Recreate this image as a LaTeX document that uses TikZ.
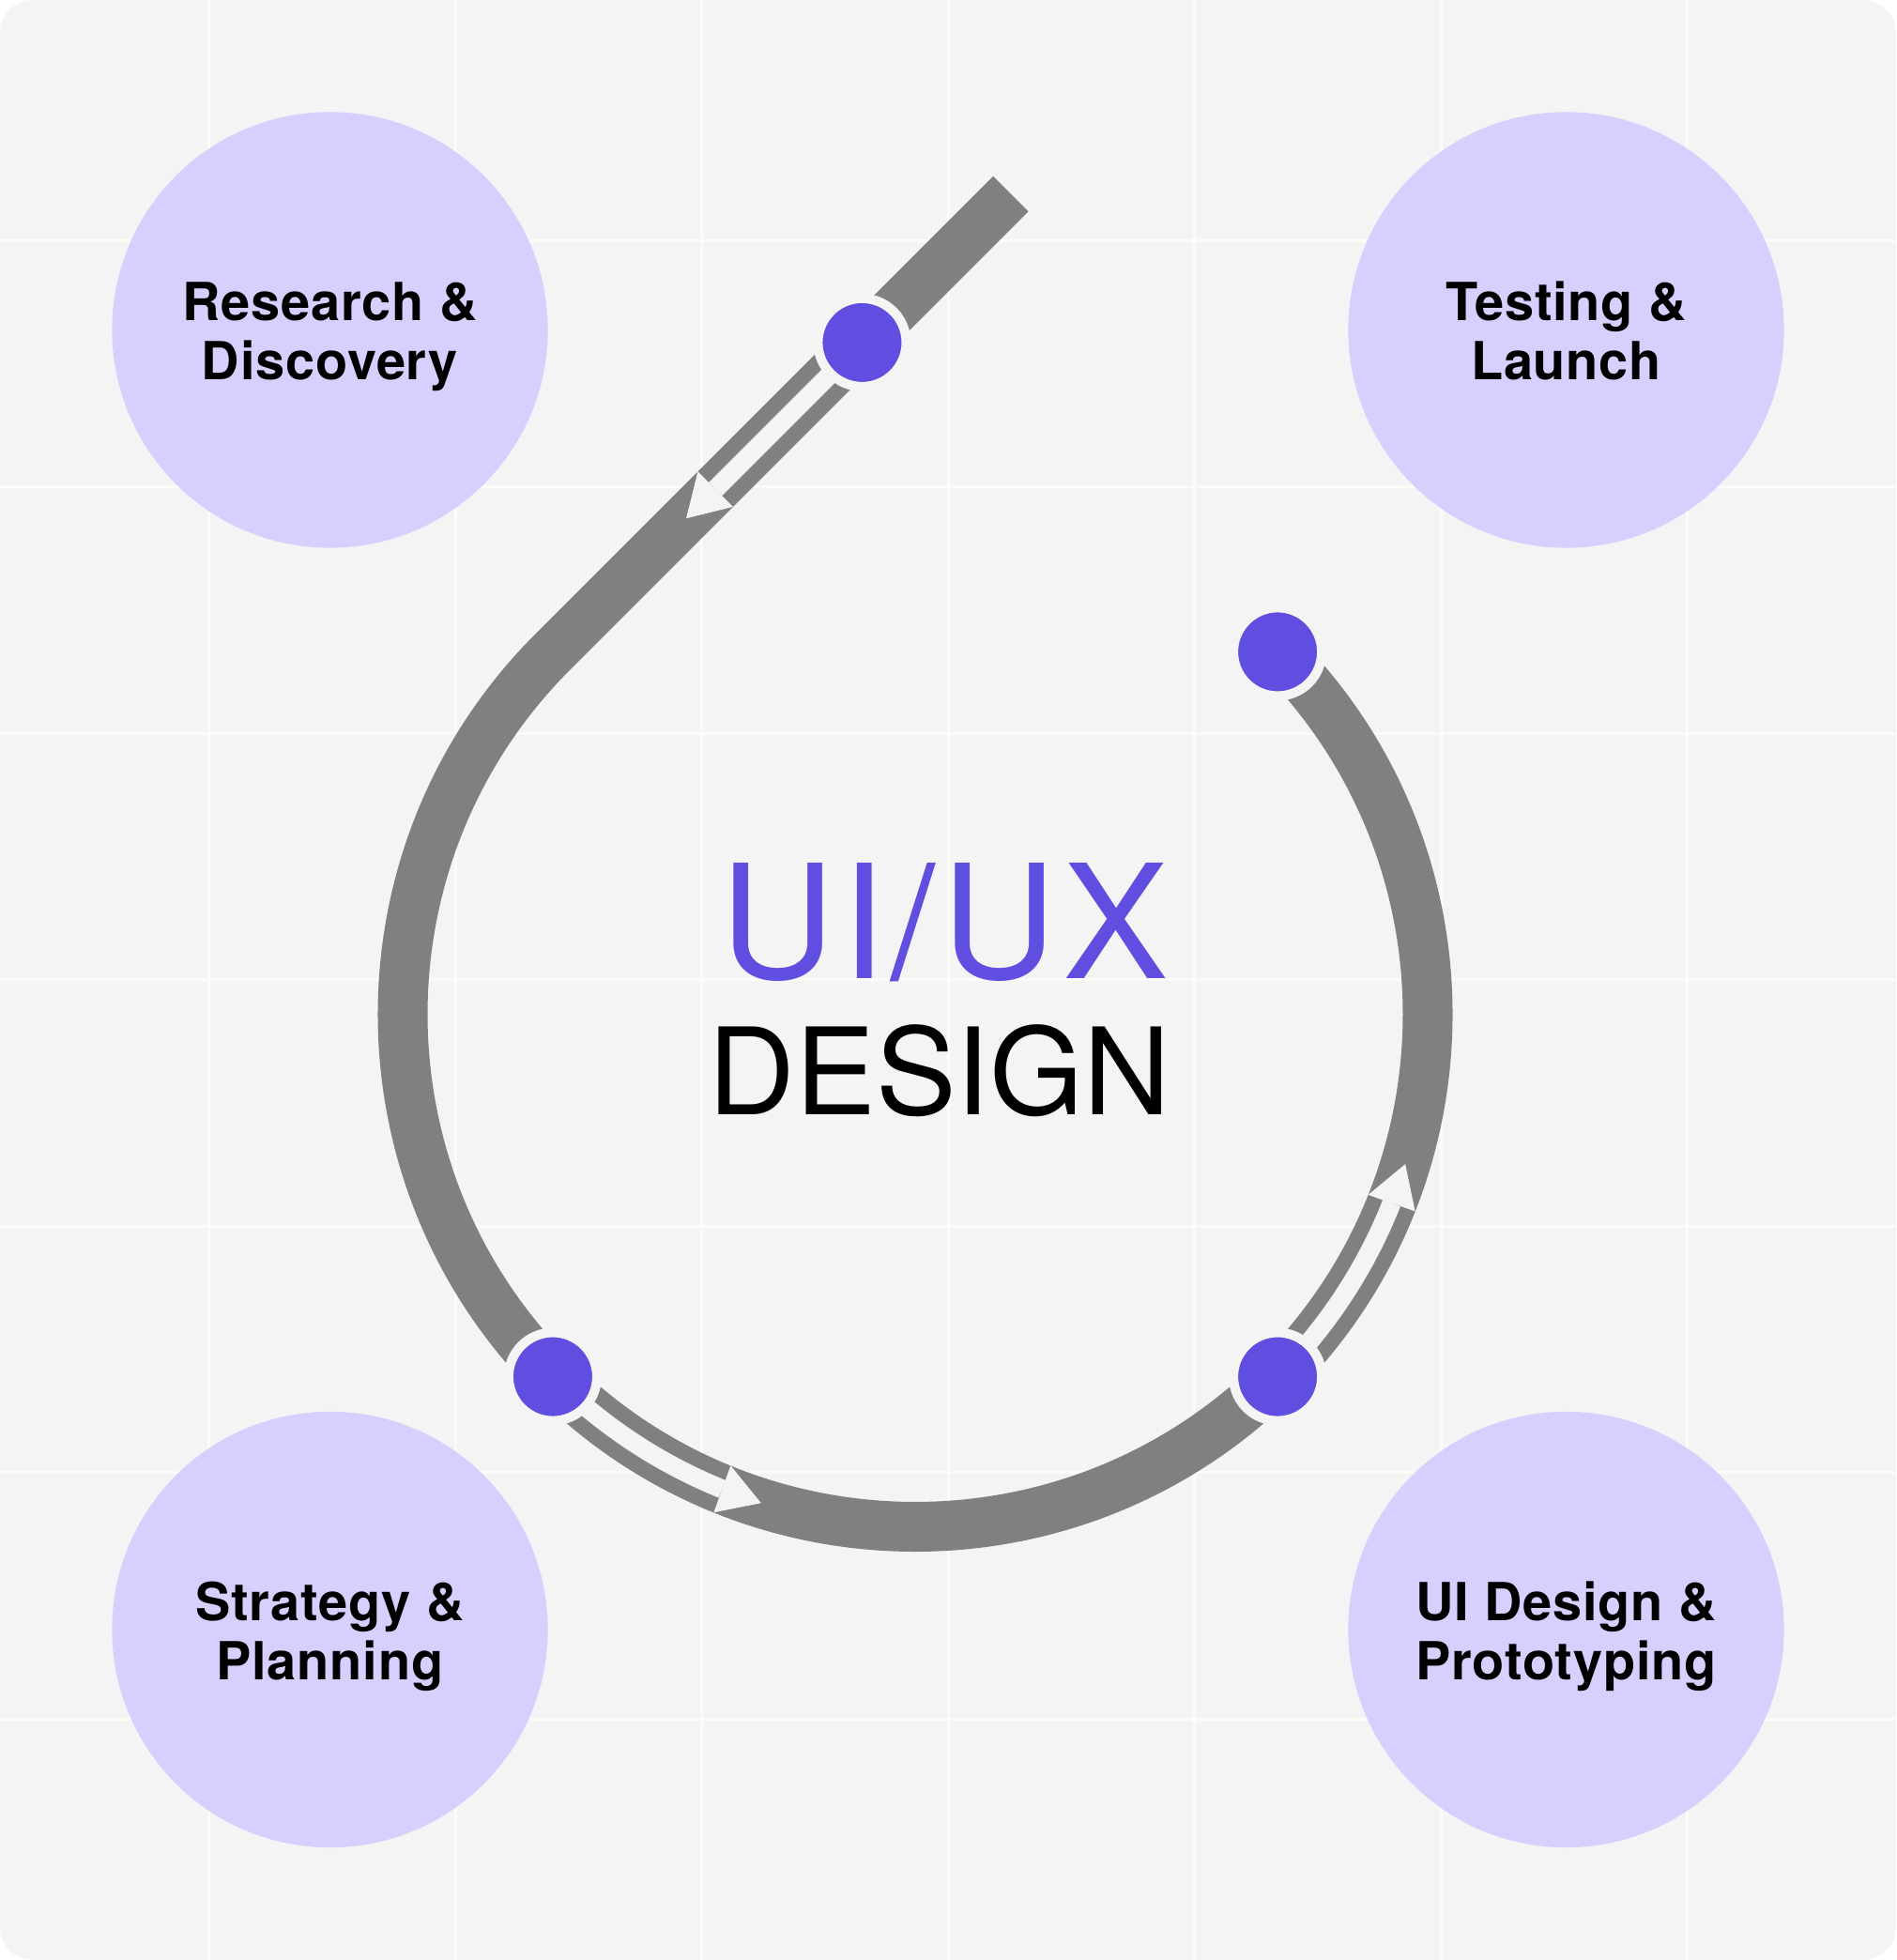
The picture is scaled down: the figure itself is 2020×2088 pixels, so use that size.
\documentclass[tikz,border=0pt]{standalone}
\usepackage{fontspec}
\setmainfont{TeX Gyre Heros}
\usetikzlibrary{arrows.meta, bending, calc}
\definecolor{canvasgrey}{HTML}{F4F4F4}
\definecolor{gridwhite}{HTML}{FBFBF7}
\definecolor{phaselilac}{HTML}{D8CFFE}
\definecolor{trackgrey}{HTML}{808080}
\definecolor{dotviolet}{HTML}{604EE0}
\tikzset{
  canvas/.style={fill=canvasgrey, rounded corners=0.35cm},
  gridline/.style={draw=gridwhite, line width=0.03cm},
  phase/.style={circle, fill=phaselilac, minimum size=4.64cm, inner sep=0},
  phasetext/.style={font=\fontsize{15.9}{18}\selectfont\bfseries\addfontfeature{LetterSpace=1.5},
                    align=center, inner sep=0, yshift=-0.09cm},
  track/.style={draw=trackgrey, line width=0.53cm},
  flow/.style={draw=canvasgrey, line width=0.2cm,
               -{Triangle[length=0.44cm, width=0.53cm, line width=0pt]}},
  milestone/.style={circle, fill=dotviolet, draw=canvasgrey, line width=0.1cm,
                    minimum size=0.94cm, inner sep=0},
  headline/.style={font=\fontsize{48}{52}\selectfont\addfontfeature{LetterSpace=4},
                   text=dotviolet, anchor=base, inner sep=0},
  subline/.style={font=\fontsize{36.5}{40}\selectfont, text=black,
                  anchor=base, inner sep=0},
}
\begin{document}
\begin{tikzpicture}[x=0.01cm, y=0.01cm]
  \useasboundingbox (0,0) rectangle (2020,2088);

  % --- Canvas and grid ---
  \fill[canvas] (0,0) rectangle (2020,2088);
  \begin{scope}
    \clip[rounded corners=0.35cm] (0,0) rectangle (2020,2088);
    \foreach \k in {-3,...,3} {
      \draw[gridline] ({1010+262.5*\k},0) -- ({1010+262.5*\k},2088);
      \draw[gridline] (0,{1044+262.5*\k}) -- (2020,{1044+262.5*\k});
    }
  \end{scope}

  % --- Phases ---
  \node[phase] (research) at (351.5,1736.5) {};
  \node[phase] (testing)  at (1668.5,1736.5) {};
  \node[phase] (strategy) at (351.5,352) {};
  \node[phase] (uidesign) at (1668.5,352) {};
  \node[phasetext] (researchtxt) at (research) {\strut Research \&\\\strut Discovery};
  \node[phasetext] (testingtxt)  at (testing)  {\strut Testing \&\\\strut Launch};
  \node[phasetext] (strategytxt) at (strategy) {\strut Strategy \&\\\strut Planning};
  \node[phasetext] (uidesigntxt) at (uidesign) {\strut UI Design \&\\\strut Prototyping};

  % --- Track ---
  \coordinate (hub)   at (975,1007.5);
  \coordinate (bend)  at ($(hub)+(135:546)$);
  \coordinate (entry) at ($(bend)+(45:690)$);
  \draw[track] (entry) -- (bend) arc[start angle=135, end angle=405, radius=546];

  \coordinate (m1) at ($(bend)+(45:466)$);
  \coordinate (m2) at ($(hub)+(225:546)$);
  \coordinate (m3) at ($(hub)+(315:546)$);
  \coordinate (m4) at ($(hub)+(45:546)$);
  \coordinate (tip1) at ($(bend)+(45:201)$);

  % flow cut into the track after each milestone
  \draw[flow] (m1) -- (tip1);
  \draw[flow] (m2) arc[start angle=225, end angle=252.5, radius=546];
  \draw[flow] (m3) arc[start angle=315, end angle=343, radius=546];

  % --- Milestones ---
  \node[milestone] (d1) at (m1) {};
  \node[milestone] (d2) at (m2) {};
  \node[milestone] (d3) at (m3) {};
  \node[milestone] (d4) at (m4) {};

  % --- Title ---
  \node[headline] (title)    at (1006,1045) {UI/UX};
  \node[subline]  (subtitle) at (1001,900)  {DESIGN};
\end{tikzpicture}
\end{document}
